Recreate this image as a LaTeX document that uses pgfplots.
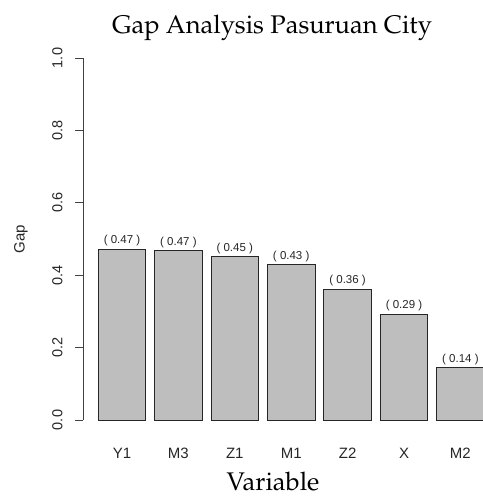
\documentclass[border=0pt]{standalone}
\usepackage[T1]{fontenc}
\usepackage{fontspec}
\setmainfont{Liberation Sans}
\usepackage{pgfplots}
\pgfplotsset{compat=1.18}
\newcommand\pal{\fontencoding{T1}\fontfamily{ppl}\selectfont}
\definecolor{barg}{RGB}{190,190,190}
\pgfplotstableread[col sep=comma]{
x,y,label
0,0.472,( 0.47 )
1,0.467,( 0.47 )
2,0.451,( 0.45 )
3,0.430,( 0.43 )
4,0.361,( 0.36 )
5,0.292,( 0.29 )
6,0.144,( 0.14 )
}\gapdata
\begin{document}
\begin{tikzpicture}[x=1pt,y=1pt]
\begin{axis}[
  at={(83pt,78pt)}, anchor=south west,
  scale only axis, width=405.6pt, height=362pt,
  xmin=-0.6915, xmax=6.5, ymin=0, ymax=1,
  clip=false,
  axis x line*=bottom, axis y line*=left,
  x axis line style={draw=none},
  y axis line style={black!75, line width=0.8pt},
  xtick={0,1,2,3,4,5,6},
  xticklabels={Y1,M3,Z1,M1,Z2,X,M2},
  xtick style={draw=none},
  xticklabel style={font=\fontsize{15}{18}\selectfont, text=black!85, text height=11pt, text depth=0pt, anchor=north, yshift=-16pt},
  ytick={0,0.2,0.4,0.6,0.8,1.0},
  yticklabels={0.0,0.2,0.4,0.6,0.8,1.0},
  tick align=outside, major tick length=8pt,
  ytick style={black!75, line width=0.8pt},
  yticklabel shift=9pt,
  yticklabel style={font=\fontsize{14.5}{17}\selectfont, text=black!85, rotate=90, anchor=south},
]
\addplot[ybar, bar width=47.5pt, fill=barg, draw=black!85, line width=0.9pt,
  nodes near coords, point meta=explicit symbolic,
  every node near coord/.append style={font=\fontsize{11.5}{13}\selectfont, text=black!85, inner sep=2.5pt}]
  table[x=x, y=y, meta=label]{\gapdata};
\end{axis}
\node[anchor=base, font=\pal\fontsize{25.5}{30}\selectfont] at (272pt,464.7pt) {Gap Analysis Pasuruan City};
\node[anchor=base, font=\pal\fontsize{25.5}{30}\selectfont] at (273pt,7pt) {Variable};
\node[rotate=90, font=\fontsize{15}{18}\selectfont, text=black!85] at (21pt,259pt) {Gap};
\pgfresetboundingbox
\path[use as bounding box] (0pt,0pt) rectangle (482pt,498pt);
\end{tikzpicture}
\end{document}
